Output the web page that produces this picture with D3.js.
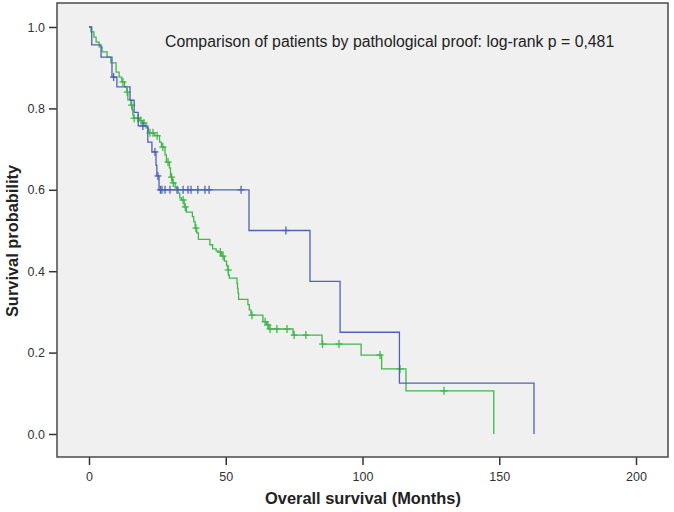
<!DOCTYPE html>
<html>
<head>
<meta charset="utf-8">
<script src="https://cdn.jsdelivr.net/npm/d3@7"></script>
<style>
  html, body { margin: 0; padding: 0; background: #ffffff; }
  svg { display: block; font-family: "Liberation Sans", Arial, sans-serif; }
</style>
</head>
<body>
<svg id="chart" width="674" height="512"></svg>
<script>
// ---------- data ----------
const xTicks = [0, 50, 100, 150, 200];
const yTicks = [0.0, 0.2, 0.4, 0.6, 0.8, 1.0];
const titleText = "Comparison of patients by pathological proof: log-rank p = 0,481";
const xLabel = "Overall survival (Months)";
const yLabel = "Survival probability";

// Blue group: event times (months) and survival after each event
const blueEventTimes = [1.0, 4.4, 8.4, 10.2, 15.0, 16.5, 18.0, 21.5, 23.0, 24.5, 24.8, 25.6, 58.5, 80.8, 91.8, 113.5, 162.7];
const blueEventSurv  = [0.956, 0.926, 0.877, 0.853, 0.820, 0.790, 0.757, 0.717, 0.693, 0.660, 0.634, 0.600, 0.500, 0.375, 0.250, 0.125, 0.0];
const blueCensorTimes = [9.0, 19.7, 24.1, 25.2, 26.1, 26.7, 27.8, 29.6, 32.2, 34.4, 36.2, 37.3, 39.8, 42.4, 43.9, 55.6, 72.0];

// Green group
const greenEventTimes = [0.7, 1.8, 2.6, 3.7, 4.8, 6.6, 8.0, 9.9, 11.0, 12.0, 13.0, 13.8, 14.2, 15.3, 15.8, 16.0, 16.3,
  18.5, 19.6, 20.8, 21.7, 24.0, 25.8, 26.5, 27.8, 28.3, 29.4, 29.8, 30.5, 31.5, 32.6, 33.2, 33.8, 34.8, 35.6,
  37.8, 38.3, 38.8, 39.4, 40.0, 44.2, 45.2, 46.5, 47.2, 48.5, 49.5, 50.3, 50.8, 51.0, 51.3, 54.1, 54.3, 54.5, 54.7,
  58.1, 58.6, 59.2, 63.6, 65.0, 65.8, 74.6, 85.2, 99.5, 107.0, 115.9, 148.0];
const greenEventSurv = [0.988, 0.975, 0.963, 0.951, 0.939, 0.926, 0.912, 0.889, 0.877, 0.865, 0.853, 0.840, 0.821, 0.808, 0.796, 0.784, 0.776,
  0.770, 0.764, 0.752, 0.740, 0.733, 0.717, 0.705, 0.686, 0.668, 0.654, 0.631, 0.617, 0.605, 0.592, 0.580, 0.575, 0.558, 0.545,
  0.534, 0.522, 0.506, 0.494, 0.478, 0.465, 0.455, 0.450, 0.447, 0.437, 0.425, 0.414, 0.403, 0.390, 0.383, 0.370, 0.358, 0.346, 0.331,
  0.318, 0.305, 0.292, 0.276, 0.268, 0.258, 0.243, 0.221, 0.194, 0.160, 0.106, 0.0];
const greenCensorTimes = [12.4, 14.0, 15.6, 16.5, 17.9, 19.0, 20.1, 22.3, 23.4, 24.9, 27.0, 28.9, 30.2, 30.8, 34.4, 35.2,
  39.1, 48.0, 49.0, 50.9, 59.6, 64.4, 65.4, 66.2, 68.7, 72.4, 75.0, 79.3, 85.4, 91.4, 106.4, 113.7, 129.8];

const blueColor = "#4f62b2";
const greenColor = "#40b64c";

// ---------- layout ----------
const frame = { left: 57, right: 668, top: 3, bottom: 457 };
const x = d3.scaleLinear().domain([0, 200]).range([89, 636]);
const y = d3.scaleLinear().domain([0, 1]).range([434, 27]);

const svg = d3.select("#chart");

// plot background
svg.append("rect")
  .attr("x", frame.left).attr("y", frame.top)
  .attr("width", frame.right - frame.left).attr("height", frame.bottom - frame.top)
  .attr("fill", "#f0f0f0");

// axes
const yAxis = d3.axisLeft(y).tickValues(yTicks).tickFormat(d3.format(".1f")).tickSize(8).tickPadding(4);
const xAxis = d3.axisBottom(x).tickValues(xTicks).tickFormat(d3.format("d")).tickSize(8).tickPadding(7);

const gy = svg.append("g").attr("transform", `translate(${frame.left},0)`).call(yAxis);
const gx = svg.append("g").attr("transform", `translate(0,${frame.bottom})`).call(xAxis);
[gx, gy].forEach(g => {
  g.select(".domain").remove();
  g.selectAll("line").attr("stroke", "#333").attr("stroke-width", 1.5);
  g.selectAll("text").attr("fill", "#333").style("font-size", "12.5px")
    .style("font-family", '"Liberation Sans", Arial, sans-serif');
});

// frame
svg.append("rect")
  .attr("x", frame.left).attr("y", frame.top)
  .attr("width", frame.right - frame.left).attr("height", frame.bottom - frame.top)
  .attr("fill", "none").attr("stroke", "#4a4a4a").attr("stroke-width", 1.5);

// ---------- curves ----------
function stepPoints(times, surv) {
  const pts = [[0, 1]];
  let prev = 1;
  times.forEach((t, i) => {
    pts.push([t, prev]);
    pts.push([t, surv[i]]);
    prev = surv[i];
  });
  return pts;
}
function survAt(times, surv, t) {
  const i = d3.bisectRight(times, t);
  return i === 0 ? 1 : surv[i - 1];
}

const line = d3.line().x(d => x(d[0])).y(d => y(d[1]));

function drawGroup(times, surv, censors, color) {
  svg.append("path")
    .datum(stepPoints(times, surv))
    .attr("d", line)
    .attr("fill", "none")
    .attr("stroke", color)
    .attr("stroke-width", 1.3);
  const g = svg.append("g").attr("stroke", color).attr("stroke-width", 1.3);
  censors.forEach(t => {
    const cx = x(t), cy = y(survAt(times, surv, t));
    g.append("line").attr("x1", cx).attr("x2", cx).attr("y1", cy - 4).attr("y2", cy + 4);
    g.append("line").attr("x1", cx - 3.5).attr("x2", cx + 3.5).attr("y1", cy).attr("y2", cy);
  });
}

drawGroup(greenEventTimes, greenEventSurv, greenCensorTimes, greenColor);
drawGroup(blueEventTimes, blueEventSurv, blueCensorTimes, blueColor);

// ---------- texts ----------
svg.append("text")
  .attr("x", 165).attr("y", 47)
  .attr("fill", "#222")
  .style("font-size", "15.8px")
  .text(titleText);

svg.append("text")
  .attr("x", 363).attr("y", 504)
  .attr("text-anchor", "middle")
  .attr("fill", "#222")
  .style("font-size", "16.4px").style("font-weight", "bold")
  .text(xLabel);

svg.append("text")
  .attr("transform", `translate(18,241) rotate(-90)`)
  .attr("text-anchor", "middle")
  .attr("fill", "#222")
  .style("font-size", "16.4px").style("font-weight", "bold")
  .text(yLabel);
</script>
</body>
</html>
